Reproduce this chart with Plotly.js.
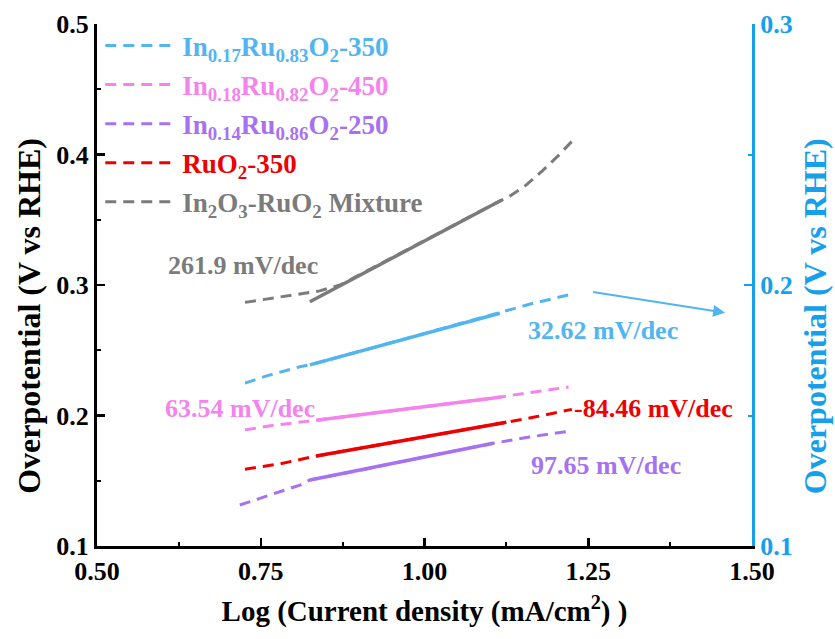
<!DOCTYPE html>
<html><head><meta charset="utf-8">
<script src="https://cdn.plot.ly/plotly-3.0.1.min.js"></script>
<style>html,body{margin:0;padding:0;background:#fff}#chart{width:835px;height:639px}</style>
</head><body><div id="chart"></div>
<script>
// ---- data ----
const xTicks = [0.5, 0.75, 1.0, 1.25, 1.5];
const yLeftTicks = [0.1, 0.2, 0.3, 0.4, 0.5];
const yRightTicks = [0.1, 0.2, 0.3];

const seriesNames = [
  'In<sub>0.17</sub>Ru<sub>0.83</sub>O<sub>2</sub>-350',
  'In<sub>0.18</sub>Ru<sub>0.82</sub>O<sub>2</sub>-450',
  'In<sub>0.14</sub>Ru<sub>0.86</sub>O<sub>2</sub>-250',
  'RuO<sub>2</sub>-350',
  'In<sub>2</sub>O<sub>3</sub>-RuO<sub>2</sub> Mixture'
];
const slopeLabels = ['32.62 mV/dec', '63.54 mV/dec', '97.65 mV/dec', '-84.46 mV/dec', '261.9 mV/dec'];
const xTitle = 'Log (Current density (mA/cm<sup>2</sup>) )';
const yTitle = 'Overpotential (V vs RHE)';

// In0.17Ru0.83O2-350 (right axis)
const blueX = [0.726, 0.759, 0.81, 0.825, 0.9, 1.0, 1.115, 1.166, 1.227];
const blueY = [0.1624, 0.1652, 0.1687, 0.1694, 0.1745, 0.1814, 0.1892, 0.193, 0.1966];
const blueFitX = [0.825, 1.115];
const blueFitY = [0.1694, 0.1892];

// In0.18Ru0.82O2-450
const pinkX = [0.726, 0.77, 0.82, 0.9, 1.0, 1.1, 1.16, 1.22];
const pinkY = [0.189, 0.1925, 0.1955, 0.2005, 0.2069, 0.213, 0.2175, 0.2218];
const pinkFitX = [0.835, 1.118];
const pinkFitY = [0.1963, 0.2142];

// In0.14Ru0.86O2-250
const purpleX = [0.718, 0.764, 0.81, 0.825, 0.9, 1.0, 1.105, 1.16, 1.222];
const purpleY = [0.1314, 0.139, 0.1467, 0.1506, 0.1578, 0.1683, 0.1787, 0.1835, 0.1881];
const purpleFitX = [0.825, 1.105];
const purpleFitY = [0.1506, 0.1787];

// RuO2-350
const redX = [0.726, 0.78, 0.835, 0.9, 1.0, 1.1, 1.125, 1.17, 1.225];
const redY = [0.1588, 0.163, 0.169, 0.1747, 0.1837, 0.1925, 0.1948, 0.199, 0.2047];
const redFitX = [0.835, 1.125];
const redFitY = [0.169, 0.1948];

// In2O3-RuO2 Mixture
const grayX = [0.726, 0.784, 0.84, 0.871, 0.9, 1.0, 1.1, 1.13, 1.155, 1.18, 1.205, 1.227];
const grayY = [0.2867, 0.291, 0.2955, 0.300, 0.3075, 0.334, 0.3605, 0.368, 0.3765, 0.3875, 0.3995, 0.4111];
const grayFitX = [0.825, 1.118];
const grayFitY = [0.2872, 0.3651];

// label positions (data coords, left axis)
const labelX = [1.273, 0.718, 1.277, 1.349, 0.723];
const labelY = [0.2655, 0.2057, 0.162, 0.2057, 0.315];
const arrowFrom = [1.255, 0.2949];
const arrowTo = [1.459, 0.2788];

// ---- styles ----
const colors = ['#52B5F0', '#F583EC', '#A772EF', '#EE0000', '#7B7B7B'];
const axisBlue = '#16A0EC';
const FONT = '"Liberation Serif", "Times New Roman", serif';
const DASH = '11px,7px';

const dataSets = [
  [blueX, blueY, blueFitX, blueFitY, 'y2'],
  [pinkX, pinkY, pinkFitX, pinkFitY, 'y'],
  [purpleX, purpleY, purpleFitX, purpleFitY, 'y'],
  [redX, redY, redFitX, redFitY, 'y'],
  [grayX, grayY, grayFitX, grayFitY, 'y']
];

const traces = [];
dataSets.forEach((d, i) => {
  traces.push({
    x: d[0], y: d[1], yaxis: d[4], type: 'scatter', mode: 'lines',
    name: '<span style="color:' + colors[i] + '">' + seriesNames[i] + '</span>',
    legendgroup: 'g' + i,
    line: {color: colors[i], width: 3, dash: DASH}
  });
  traces.push({
    x: d[2], y: d[3], yaxis: d[4], type: 'scatter', mode: 'lines',
    showlegend: false, legendgroup: 'g' + i, hoverinfo: 'skip',
    line: {color: colors[i], width: 3.5}
  });
});

const annotations = slopeLabels.map((t, i) => ({
  x: labelX[i], y: labelY[i], xref: 'x', yref: 'y', text: t, showarrow: false,
  font: {family: FONT, size: 26, color: colors[i], weight: 'bold'}
}));
annotations.push({
  x: arrowTo[0], y: arrowTo[1], ax: arrowFrom[0], ay: arrowFrom[1],
  xref: 'x', yref: 'y', axref: 'x', ayref: 'y', text: '', showarrow: true,
  arrowhead: 2, arrowsize: 1.2, arrowwidth: 2, arrowcolor: colors[0]
});
// y-axis titles (left black, right blue)
annotations.push({
  x: -0.103, y: 0.44, xref: 'paper', yref: 'paper', text: yTitle, showarrow: false,
  textangle: -90, xanchor: 'center', yanchor: 'middle',
  font: {family: FONT, size: 32, weight: 'bold', color: '#000'}
});
annotations.push({
  x: 1.096, y: 0.44, xref: 'paper', yref: 'paper', text: yTitle, showarrow: false,
  textangle: -90, xanchor: 'center', yanchor: 'middle',
  font: {family: FONT, size: 32, weight: 'bold', color: axisBlue}
});

const layout = {
  width: 835, height: 639,
  margin: {l: 97, r: 83, t: 24, b: 93},
  paper_bgcolor: '#fff', plot_bgcolor: '#fff',
  font: {family: FONT, color: '#000'},
  showlegend: true,
  legend: {
    x: 0.005, y: 1.005, xanchor: 'left', yanchor: 'top',
    bgcolor: 'rgba(0,0,0,0)', itemwidth: 72, tracegroupgap: 1,
    font: {family: FONT, size: 27, weight: 'bold'}
  },
  xaxis: {
    range: [0.5, 1.5], tickvals: xTicks, tickformat: '.2f',
    showline: true, linecolor: '#000', linewidth: 3, mirror: false,
    ticks: 'inside', ticklen: 8, tickwidth: 2.5, tickcolor: '#000',
    minor: {dtick: 0.125, tick0: 0.5, ticks: 'inside', ticklen: 4, tickwidth: 2, tickcolor: '#000'},
    showgrid: false, zeroline: false,
    tickfont: {family: FONT, size: 26, weight: 'bold', color: '#000'},
    title: {text: xTitle, standoff: 16,
            font: {family: FONT, size: 29, weight: 'bold', color: '#000'}}
  },
  yaxis: {
    range: [0.1, 0.5], tickvals: yLeftTicks, tickformat: '.1f',
    showline: true, linecolor: '#000', linewidth: 3, mirror: false,
    ticks: 'inside', ticklen: 8, tickwidth: 2.5, tickcolor: '#000',
    minor: {dtick: 0.05, tick0: 0.1, ticks: 'inside', ticklen: 4, tickwidth: 2, tickcolor: '#000'},
    showgrid: false, zeroline: false,
    tickfont: {family: FONT, size: 26, weight: 'bold', color: '#000'}
  },
  yaxis2: {
    overlaying: 'y', side: 'right', anchor: 'x',
    range: [0.1, 0.3], tickvals: yRightTicks, tickformat: '.1f',
    showline: true, linecolor: axisBlue, linewidth: 3,
    ticks: 'inside', ticklen: 8, tickwidth: 2.5, tickcolor: axisBlue,
    minor: {dtick: 0.05, tick0: 0.1, ticks: 'inside', ticklen: 4, tickwidth: 2, tickcolor: axisBlue},
    showgrid: false, zeroline: false,
    tickfont: {family: FONT, size: 26, weight: 'bold', color: axisBlue}
  },
  annotations: annotations
};

Plotly.newPlot('chart', traces, layout, {displayModeBar: false, staticPlot: true});
</script>
</body></html>
